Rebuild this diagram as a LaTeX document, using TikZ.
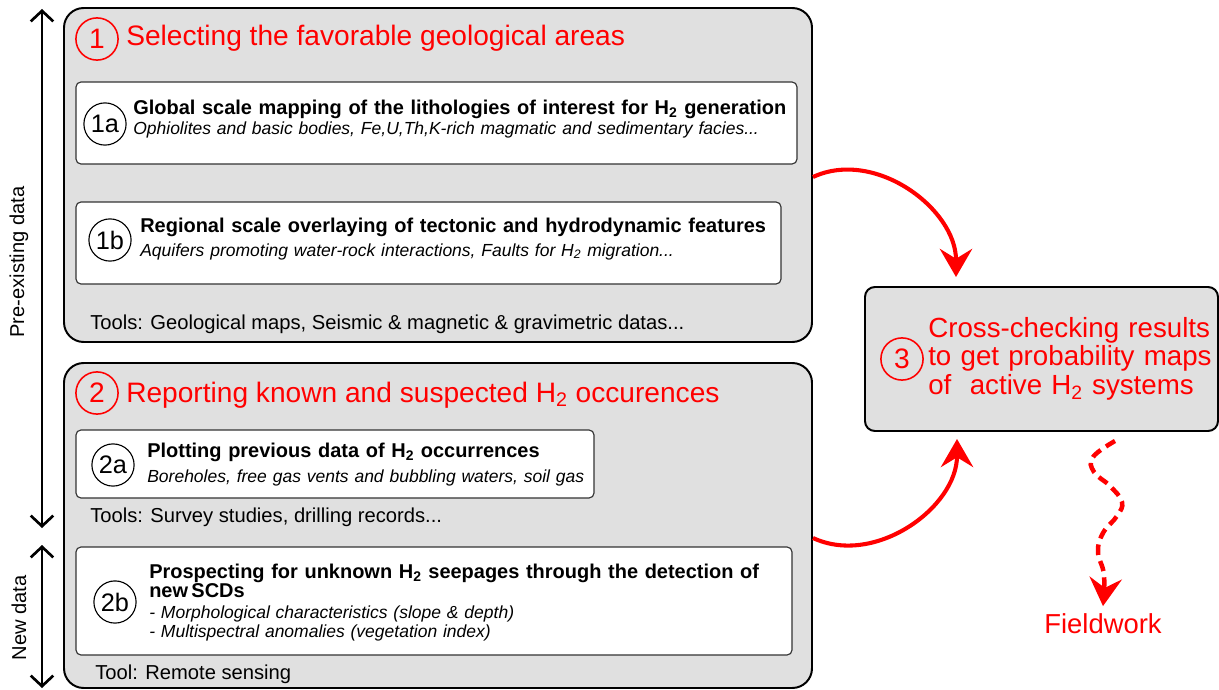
\documentclass[tikz,border=0pt]{standalone}
\usepackage{fontspec}
\setmainfont{Liberation Sans}
\usepackage{tikz}
\usetikzlibrary{fit, arrows.meta}
\definecolor{boxgray}{HTML}{E0E0E0}
\tikzstyle{stagebox} = [draw, line width=1.4pt, rounded corners=14pt,
fill=boxgray, inner sep=0pt]
\tikzstyle{taskbox} = [draw=black!80, line width=0.8pt,
rounded corners=3.5pt, fill=white, inner sep=0pt]
\tikzstyle{stepnum} = [circle, draw=red, line width=1.1pt, text=red,
minimum size=30pt, inner sep=0pt, font=\fontsize{20}{20}\selectfont]
\tikzstyle{tasknum} = [circle, draw, line width=0.8pt,
minimum size=30pt, inner sep=0pt, font=\fontsize{18}{18}\selectfont]
\tikzstyle{stagetitle} = [anchor=base west, inner sep=0pt, text=red,
font=\fontsize{20}{20}\selectfont]
\tikzstyle{tasktitle} = [anchor=base west, inner sep=0pt,
text width=500pt, align=left, font=\bfseries\fontsize{14.2}{14.2}\selectfont]
\tikzstyle{taskinfo} = [anchor=base west, inner sep=0pt,
text width=500pt, align=left, font=\itshape\fontsize{12.45}{14.2}\selectfont]
\tikzstyle{toolline} = [anchor=base west, inner sep=0pt,
font=\fontsize{14.35}{14.35}\selectfont]
\tikzstyle{sidelabel} = [rotate=90, inner sep=0pt,
font=\fontsize{14.3}{14.3}\selectfont]
\tikzstyle{dataspan} = [line width=1.9pt,
{Straight Barb[length=7.5pt, width=16pt]}-{Straight Barb[length=7.5pt, width=16pt]}]
\tikzstyle{flowarrow} = [red, line width=2.9pt,
-{Stealth[length=20pt, width=23pt, inset=7pt]}]

\begin{document}
\begin{tikzpicture}[x=0.025cm, y=0.025cm]
	\useasboundingbox (0,0) rectangle (1219,-690);
	%% Stage 1
	\node[stagebox, fit={(64,-8) (812,-342)}] (select) {};
	\node[stepnum] (n1) at (97,-39) {1};
	\node[stagetitle] (t1) at (126,-46) {Selecting the favorable geological areas};
	\node[taskbox, fit={(76,-82) (797,-164)}] (glob) {};
	\node[tasknum] (n1a) at (105,-124) {1a};
	\node[tasktitle] (h1a) at (133,-114) {Global scale mapping of the lithologies of interest for H\textsubscript{2} generation};
	\node[taskinfo] (i1a) at (133,-135) {Ophiolites and basic bodies, Fe,U,Th,K-rich magmatic and sedimentary facies...};
	\node[taskbox, fit={(76,-202) (781,-284)}] (regio) {};
	\node[tasknum] (n1b) at (110,-240) {1b};
	\node[tasktitle] (h1b) at (140,-232) {Regional scale overlaying of tectonic and hydrodynamic features};
	\node[taskinfo] (i1b) at (140,-256) {Aquifers promoting water-rock interactions, Faults for H\textsubscript{2} migration...};
	\node[toolline] (tools1) at (90,-329) {Tools: Geological maps, Seismic \& magnetic \& gravimetric datas...};
	%% Stage 2
	\node[stagebox, fit={(64,-363) (812,-688)}] (report) {};
	\node[stepnum] (n2) at (97,-393) {2};
	\node[stagetitle] (t2) at (126,-402) {Reporting known and suspected H\textsubscript{2} occurences};
	\node[taskbox, fit={(76,-430) (594,-498)}] (plot) {};
	\node[tasknum] (n2a) at (113,-465) {2a};
	\node[tasktitle] (h2a) at (147,-457) {Plotting previous data of H\textsubscript{2} occurrences};
	\node[taskinfo] (i2a) at (147,-482) {Boreholes, free gas vents and bubbling waters, soil gas};
	\node[toolline] (tools2) at (90,-522) {Tools: Survey studies, drilling records...};
	\node[taskbox, fit={(76,-547) (792,-655)}] (prosp) {};
	\node[tasknum] (n2b) at (115,-602) {2b};
	\node[tasktitle] (h2b) at (149,-578) {Prospecting for unknown H\textsubscript{2} seepages through the detection of\\new\,SCDs};
	\node[taskinfo] (i2b) at (149,-618) {- Morphological characteristics (slope \& depth)\\- Multispectral anomalies (vegetation index)};
	\node[toolline] (tools3) at (95,-679) {Tool: Remote sensing};
	%% Stage 3
	\node[stagebox, rounded corners=7pt, fit={(865,-287) (1218,-431)}] (cross) {};
	\node[stepnum] (n3) at (902,-359) {3};
	\node[anchor=base west, inner sep=0pt, text=red, text width=220pt, align=left,
		font=\fontsize{19.7}{20.6}\selectfont] (t3) at (928,-337)
		{Cross-checking results\\to get probability maps\\of~ active H\textsubscript{2} systems};
	\node[anchor=base, inner sep=0pt, outer ysep=5pt, text=red, font=\fontsize{19.5}{19.5}\selectfont] (field) at (1103,-633) {Fieldwork};
	%% Data spans
	\coordinate (preTop) at (42,-9);
	\coordinate (preBot) at (42,-528);
	\coordinate (newTop) at (42,-545);
	\coordinate (newBot) at (42,-688);
	\draw[dataspan] (preTop) -- (preBot);
	\draw[dataspan] (newTop) -- (newBot);
	\node[sidelabel] (pre) at (19,-262) {Pre-existing data};
	\node[sidelabel] (new) at (19,-618) {New data};
	%% Stages to cross-checking
	\draw[flowarrow] ([yshift=-170*0.025cm]select.north east) to[out=25, in=90] ([xshift=92*0.025cm, yshift=9*0.025cm]cross.north west);
	\draw[flowarrow] ([yshift=151*0.025cm]report.south east) to[out=-25, in=-90] ([xshift=93*0.025cm, yshift=-7*0.025cm]cross.south west);
	%% Fieldwork
	\coordinate (fieldStart) at (1115,-441);
	\draw[flowarrow, line width=3.2pt, dash pattern=on 7.5pt off 4.5pt] plot[smooth, tension=0.7] coordinates {(fieldStart) (1093,-457) (1094,-472) (1110,-486) (1122,-502) (1117,-516) (1103,-533) (1098,-552) (1104,-575) (field.north)};
\end{tikzpicture}
\end{document}
